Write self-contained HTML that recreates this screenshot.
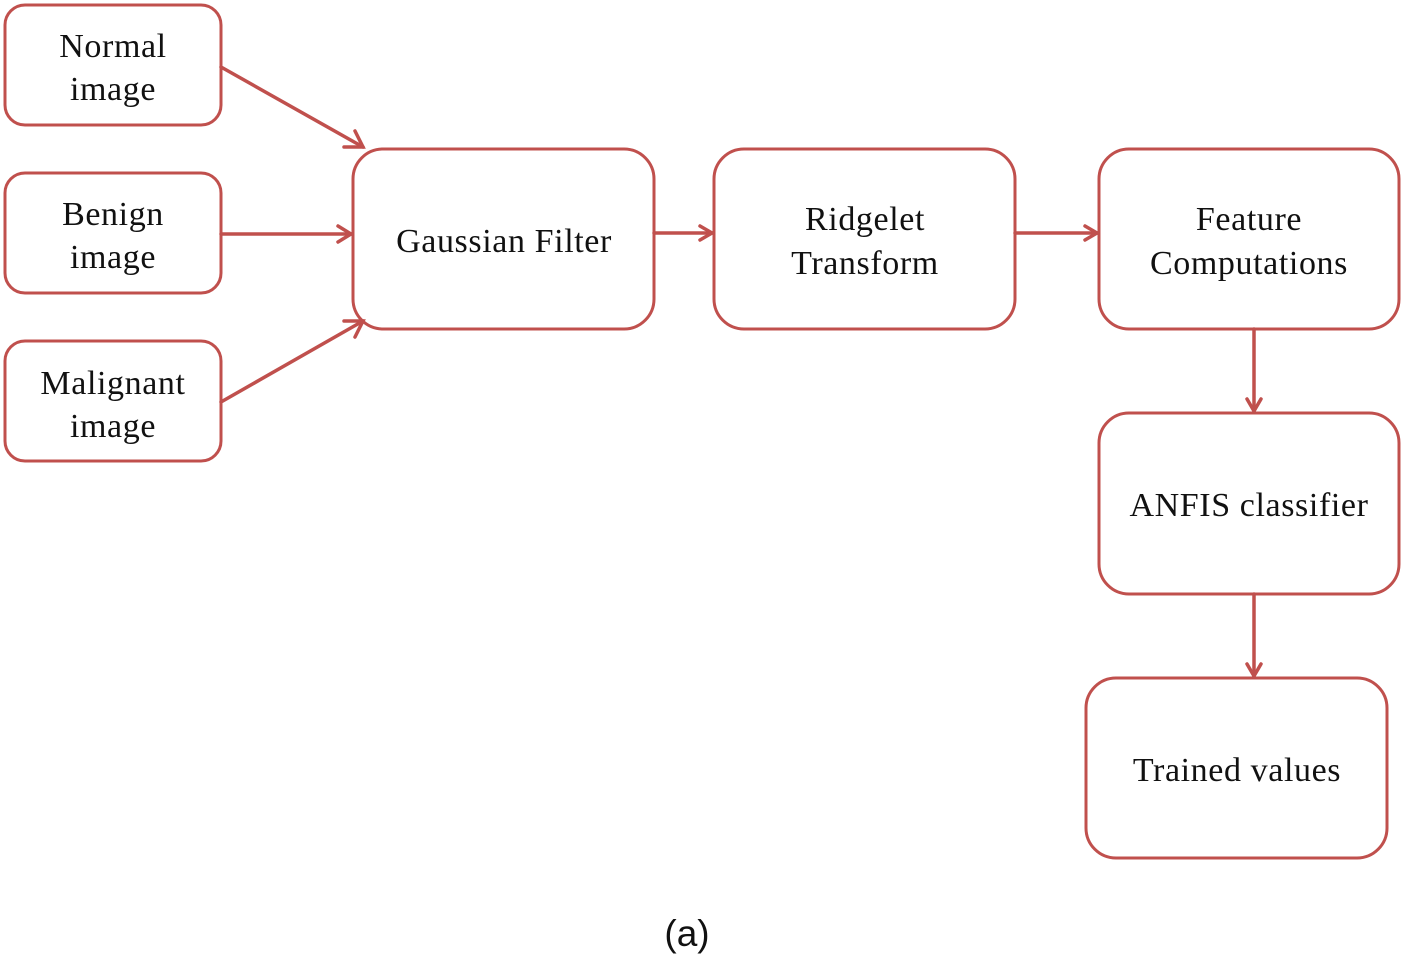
<!DOCTYPE html>
<html><head><style>
body{margin:0;background:#fff;}
svg text{font-family:"Liberation Serif",serif;font-size:34px;letter-spacing:0.6px;fill:#111;text-anchor:middle;}
</style></head><body>
<svg width="1405" height="958" viewBox="0 0 1405 958" xmlns="http://www.w3.org/2000/svg">
<g fill="none" stroke="#c0504d" stroke-width="3">
<rect x="5" y="5" width="216" height="120" rx="20"/>
<rect x="5" y="173" width="216" height="120" rx="20"/>
<rect x="5" y="341" width="216" height="120" rx="20"/>
<rect x="353" y="149" width="301" height="180" rx="30"/>
<rect x="714" y="149" width="301" height="180" rx="30"/>
<rect x="1099" y="149" width="300" height="180" rx="30"/>
<rect x="1099" y="413" width="300" height="181" rx="30"/>
<rect x="1086" y="678" width="301" height="180" rx="30"/>
<g stroke-width="3.5" stroke-linecap="round">
<line x1="221" y1="67" x2="363" y2="147"/><polyline points="344,147 363,147 355,131"/>
<line x1="221" y1="234" x2="351" y2="234"/><polyline points="338,226 351,234 338,242"/>
<line x1="221" y1="402" x2="363" y2="321"/><polyline points="355,337 363,321 344,321"/>
<line x1="654" y1="233" x2="712" y2="233"/><polyline points="700,226 712,233 700,240"/>
<line x1="1015" y1="233" x2="1097" y2="233"/><polyline points="1085,226 1097,233 1085,240"/>
<line x1="1254" y1="329" x2="1254" y2="411"/><polyline points="1247,399 1254,411 1261,399"/>
<line x1="1254" y1="594" x2="1254" y2="676"/><polyline points="1247,664 1254,676 1261,664"/>
</g></g>
<text x="113" y="57">Normal</text><text x="113" y="100">image</text>
<text x="113" y="225">Benign</text><text x="113" y="268">image</text>
<text x="113" y="394">Malignant</text><text x="113" y="437">image</text>
<text x="504" y="252">Gaussian Filter</text>
<text x="865" y="230">Ridgelet</text><text x="865" y="274">Transform</text>
<text x="1249" y="230">Feature</text><text x="1249" y="274">Computations</text>
<text x="1249" y="516">ANFIS classifier</text>
<text x="1237" y="781">Trained values</text>
<text x="687" y="946" style="font-family:'Liberation Sans',sans-serif;font-size:37px;letter-spacing:0">(a)</text>
</svg>
</body></html>
